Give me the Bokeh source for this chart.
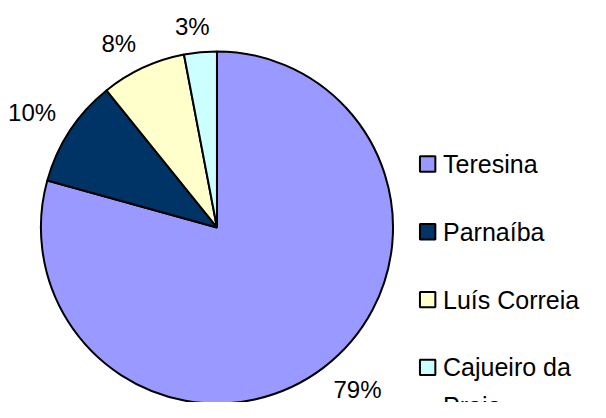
import numpy as np
from bokeh.plotting import figure
from bokeh.models import Range1d, ColumnDataSource
from bokeh.embed import file_html
from bokeh.resources import INLINE
from bokeh.core.properties import value

# ---- data ----
cities = ["Teresina", "Parnaíba", "Luís Correia", "Cajueiro da Praia"]
shares = [79.3, 9.9, 7.8, 3.0]
colors = ["#9999FF", "#003366", "#FFFFCC", "#CCFFFF"]
legend_labels = ["Teresina", "Parnaíba", "Luís Correia", "Cajueiro da\nPraia"]

# ---- layout (data units = reference pixels, 606 x 418) ----
REF_W, REF_H = 606, 418
H = 402
S = H / REF_H
W = int(round(REF_W * S))
FONT = "Liberation Sans"
LBL_FS = 25          # reference px
LEG_FS = 26          # reference px
CX, CY, R = 225, REF_H - 236, 183
LABEL_R = 200
HALF_H = 9.5


def text_width(s, fs):
    widths = {"%": 0.889}
    return sum(widths.get(c, 0.556) for c in s) * fs


vals = np.array(shares, dtype=float)
frac = vals / vals.sum()
cum = np.concatenate([[0.0], np.cumsum(frac)])
start = np.pi / 2 - 2 * np.pi * cum[:-1]
end = np.pi / 2 - 2 * np.pi * cum[1:]
mid = (start + end) / 2
pct = [f"{int(round(f * 100))}%" for f in frac]
ux, uy = np.cos(mid), np.sin(mid)
tw = np.array([text_width(t, LBL_FS) for t in pct])
lx = CX + LABEL_R * ux + tw / 2 * np.clip(4 * ux, -1, 1)
ly = CY + LABEL_R * uy + HALF_H * np.clip(4 * uy, -1, 1)

src = ColumnDataSource(dict(city=cities, start=start, end=end, color=colors))
lab = ColumnDataSource(dict(x=lx, y=ly, text=pct))

p = figure(width=W, height=H, x_range=Range1d(0, REF_W), y_range=Range1d(0, REF_H),
           output_backend="svg", toolbar_location=None, min_border=0)
p.axis.visible = False
p.grid.visible = False
p.outline_line_color = None
p.background_fill_color = "white"
p.border_fill_color = "white"

p.wedge(x=CX, y=CY, radius=R, start_angle="start", end_angle="end", direction="clock",
        fill_color="color", line_color="black", line_width=2, source=src)

p.text(x="x", y="y", text="text", source=lab, text_font=value(FONT),
       text_font_size=f"{LBL_FS * S:.1f}px", text_align="center", text_baseline="middle",
       text_color="black")

# legend drawn manually
n = len(cities)
idx = np.arange(n)
sw_x = np.full(n, 444.0)
sw_y = REF_H - (170.0 + 70.5 * idx)
leg = ColumnDataSource(dict(x=sw_x, y=sw_y, color=colors))
p.rect(x="x", y="y", width=16, height=16, fill_color="color", line_color="black",
       line_width=2, source=leg)

LINE_SP = 40
tx, ty, tt = [], [], []
for k, lbl in enumerate(legend_labels):
    for j, line in enumerate(lbl.split("\n")):
        tx.append(460.0)
        ty.append(sw_y[k] - j * LINE_SP)
        tt.append(line)
legtxt = ColumnDataSource(dict(x=tx, y=ty, text=tt))
p.text(x="x", y="y", text="text", source=legtxt, text_font=value(FONT),
       text_font_size=f"{LEG_FS * S:.1f}px", text_align="left", text_baseline="middle",
       text_color="black")

open("out.html", "w").write(file_html(p, INLINE))
